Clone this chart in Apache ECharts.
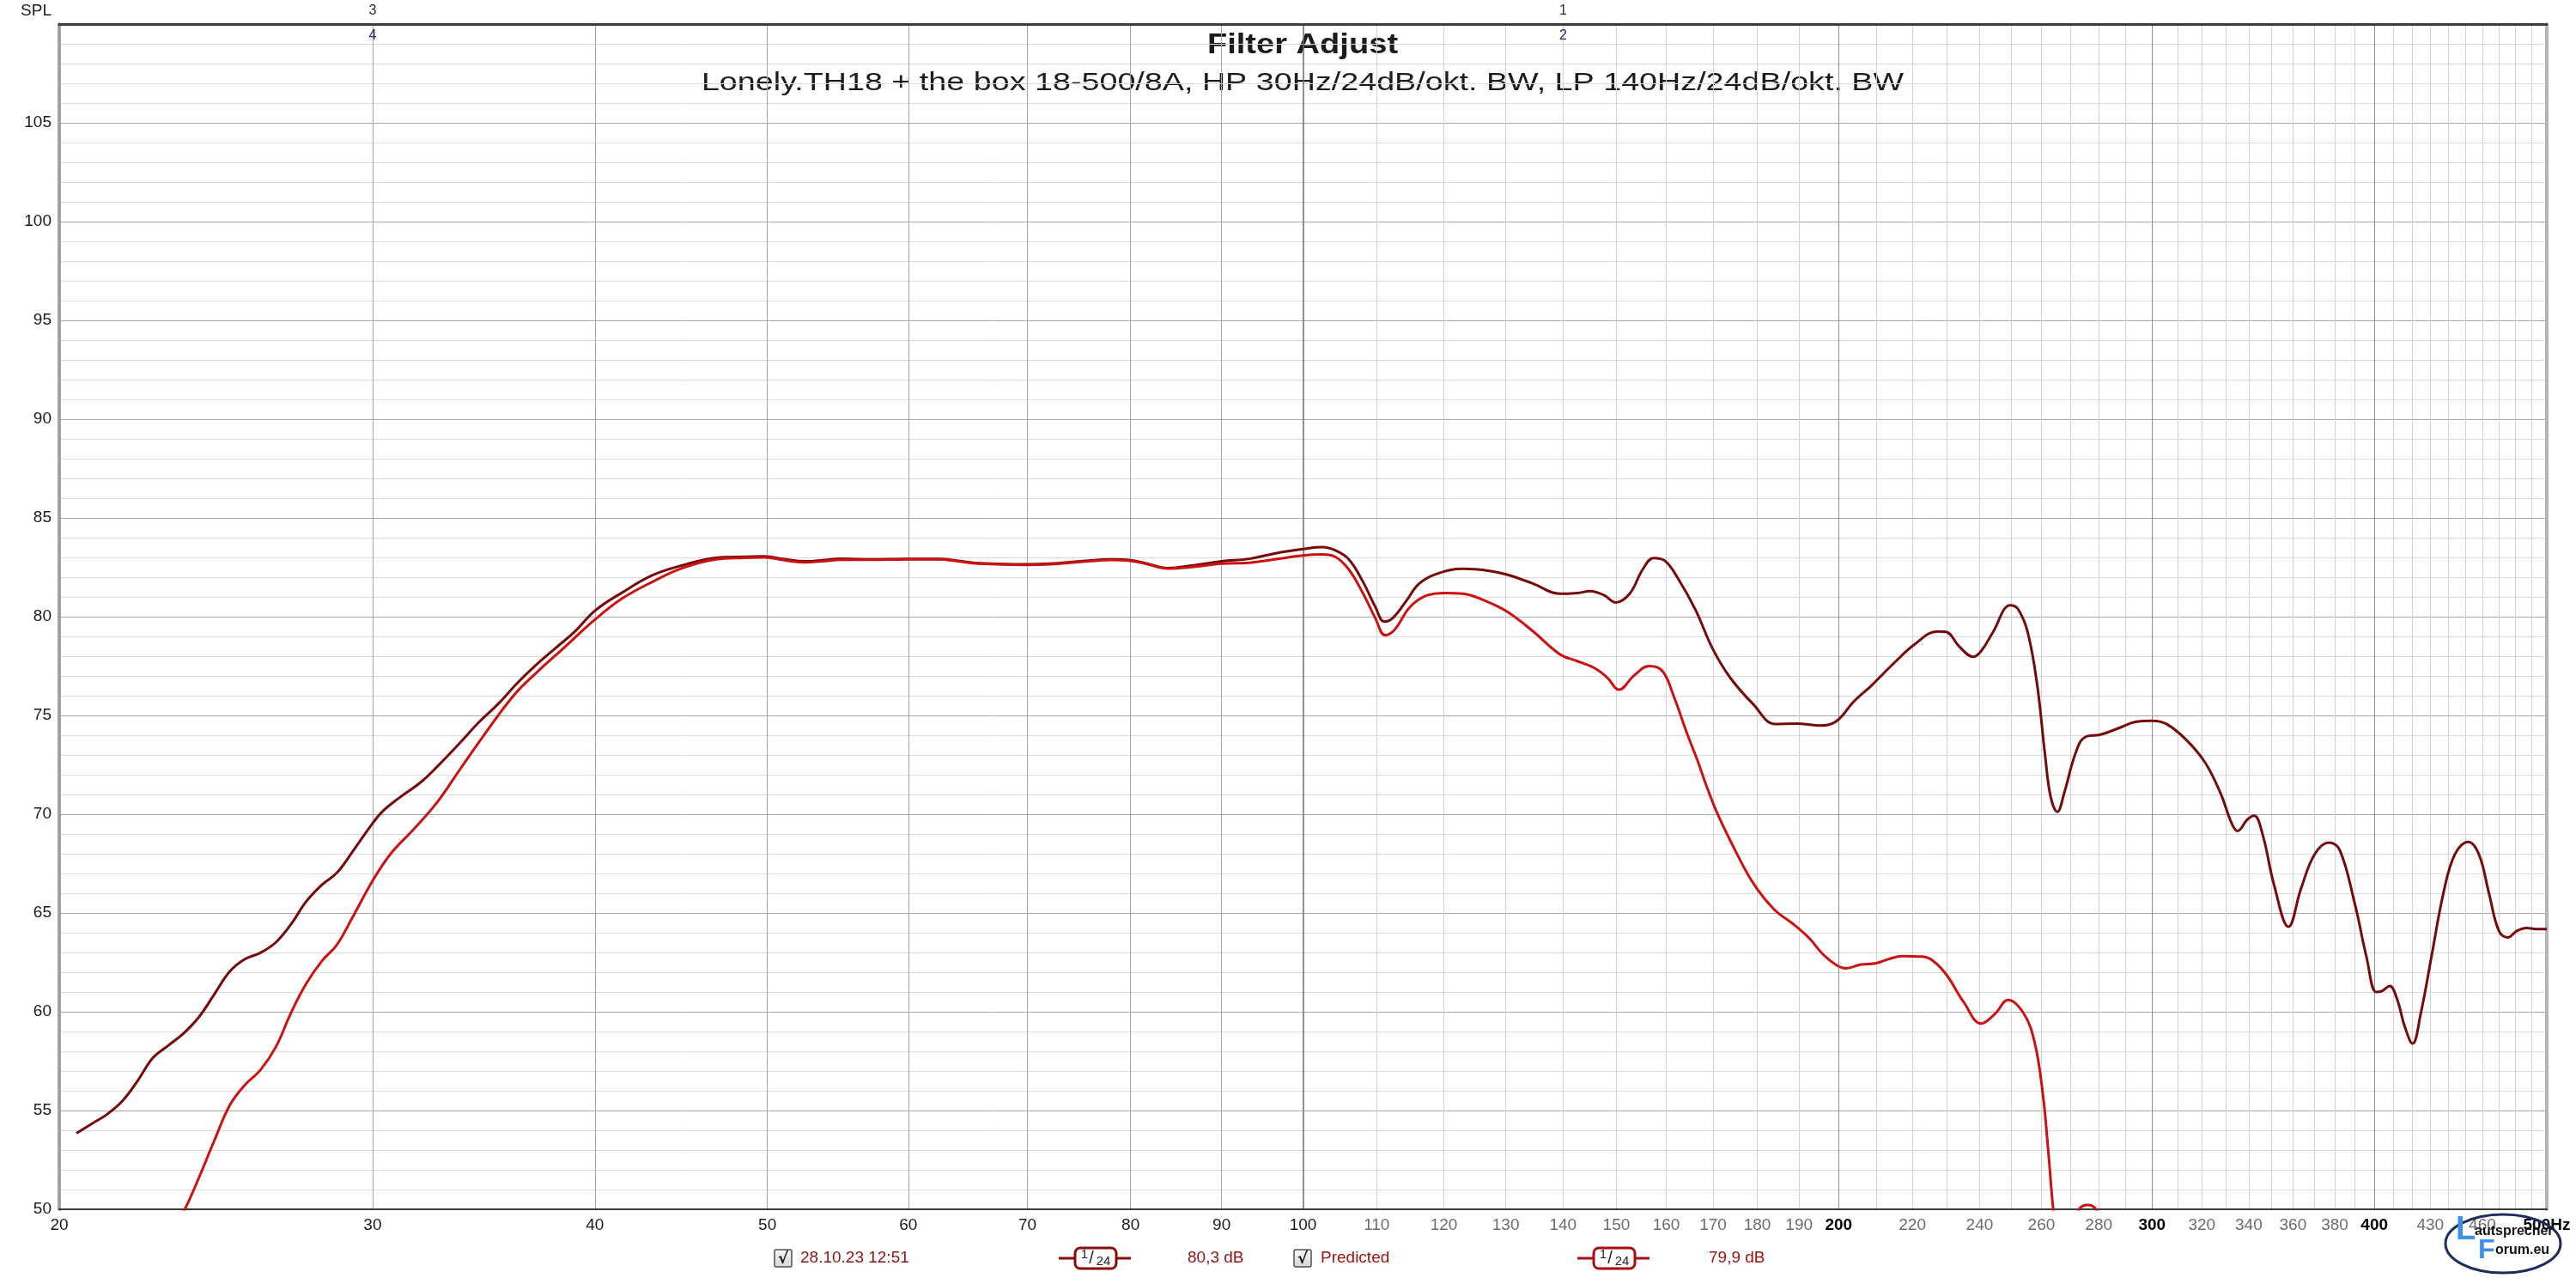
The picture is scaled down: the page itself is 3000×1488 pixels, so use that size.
<!DOCTYPE html>
<html><head><meta charset="utf-8">
<script src="https://cdn.jsdelivr.net/npm/echarts@6/dist/echarts.min.js"></script>
<style>html,body{margin:0;padding:0;background:#fff;}#c{width:3000px;height:1488px;}</style>
</head><body><div id="c"></div>
<script>
// ---------------- data ----------------
const titleText = 'Filter Adjust';
const subtitleText = 'Lonely.TH18 + the box 18-500/8A, HP 30Hz/24dB/okt. BW, LP 140Hz/24dB/okt. BW';

const measuredName = '28.10.23 12:51';
const measuredLevel = '80,3 dB';
const predictedName = 'Predicted';
const predictedLevel = '79,9 dB';
const smoothingLabel = ['1', '24'];

const measuredFreq = [20.45,20.86,21.27,21.7,22.14,22.58,23.03,23.5,23.97,24.45,24.94,25.44,25.94,26.46,27,27.53,28.09,28.65,29.22,30,30.41,31.01,31.94,32.74,33.58,34.42,35.29,36.17,37.07,38,38.96,40,41.4,43.1,44.8,46.8,48.5,49.8,51.2,52.5,53.9,55,57.2,60,62.4,64,65.7,70,72.1,75,78.1,80,81.8,83.9,86.8,90,93.3,96.4,100,102.5,104.3,106.1,108,109.8,111.1,112.3,114.3,116.2,118.9,123,127.3,130.2,134.7,139.4,142.6,145,147.6,149.9,152.6,155.2,157.4,159.7,162.4,166.2,170,173.9,179,184.2,189.5,194.9,199.4,204,208.7,214.6,220.8,227.2,229.8,233.8,238.1,240.5,244.2,249.7,252.2,255.4,258.6,261.2,263.1,265.4,267.8,271.8,275.1,280.7,287.8,293.6,300,305.6,313.3,321.2,327.7,332.6,335.1,339.4,342.4,346.2,351.3,357.9,363.8,370.3,377.2,382.5,390,396,401,404,408,412,416,420.3,424.6,431,437.5,444,451.6,457.9,463.8,469.9,475.3,481.2,487,493,500];
const measuredSPL = [53.85,54.33,54.8,55.48,56.52,57.67,58.29,58.92,59.75,60.9,62.04,62.67,62.98,63.5,64.44,65.58,66.42,67.04,68.08,69.54,70.17,70.79,71.63,72.56,73.6,74.65,75.58,76.63,77.56,78.4,79.23,80.3,81.2,82.1,82.6,82.98,83.03,83.05,82.9,82.8,82.87,82.93,82.9,82.92,82.92,82.83,82.71,82.65,82.68,82.8,82.9,82.86,82.68,82.46,82.6,82.8,82.93,83.2,83.42,83.52,83.35,82.9,81.81,80.5,79.75,79.93,80.8,81.67,82.17,82.42,82.32,82.13,81.67,81.16,81.2,81.29,81.09,80.72,81.16,82.39,82.97,82.83,81.96,80.33,78.33,76.88,75.58,74.57,74.59,74.49,74.71,75.72,76.52,77.61,78.62,79.25,79.23,78.48,77.97,78.26,79.22,80.58,80.39,79.22,76.51,73.02,70.89,70.12,71.09,73.12,73.9,74.03,74.38,74.67,74.73,74.57,73.8,72.64,71.09,69.53,69.15,69.73,69.92,68.95,66.43,64.3,66.24,67.98,68.57,68.18,65.47,62.75,61.0,61.05,61.3,60.62,59.26,58.39,59.84,62.95,66.05,67.98,68.6,67.98,66.05,64.1,63.76,64.1,64.24,64.19,64.19];

const predictedFreq = [23.3,23.53,23.97,24.45,24.94,25.44,25.94,26.46,27,27.53,28.09,28.65,29.22,30,30.7,31.63,32.6,33.58,34.6,36,37.07,38.4,40,41.4,43.1,44.8,46.8,48.5,49.8,51.2,52.5,53.9,55,57.2,60,62.4,64,65.7,70,72.1,75,78.1,80,81.8,83.9,86.8,90,93.3,96.4,100,102.5,104.3,106.1,108,109.8,111.2,112.6,114.9,117.5,120.2,123,126.6,130.2,134.7,139.4,142.6,145.8,148.3,150.5,153.5,156.5,159.2,161.5,164.3,166.8,168.1,170.8,174.5,179.2,184.1,188.2,192.4,196,199.5,201.9,205.6,209.9,213.4,217.1,222.9,225.8,229.9,235.1,240.5,244.9,249,254.1,257.7,260.5,262.5,264,266,268,270,273,276,279,282,288,295];
const predictedSPL = [49.4,50.0,51.63,53.5,55.27,56.31,57.04,58.19,59.96,61.42,62.56,63.4,64.75,66.63,67.98,69.23,70.58,72.25,73.92,76.0,77.15,78.4,79.85,80.9,81.77,82.46,82.9,82.98,83.0,82.85,82.75,82.82,82.88,82.88,82.9,82.9,82.8,82.68,82.62,82.65,82.77,82.87,82.83,82.65,82.43,82.52,82.68,82.73,82.9,83.1,83.15,83.02,82.39,81.23,79.93,79.06,79.35,80.51,81.09,81.2,81.16,80.8,80.26,79.25,78.1,77.75,77.4,76.9,76.3,77.03,77.5,77.25,76.01,74.13,72.6,71.72,70.11,68.36,66.46,65.15,64.5,63.75,62.9,62.35,62.2,62.38,62.46,62.67,62.82,62.79,62.6,61.88,60.49,59.4,59.91,60.6,59.91,58.46,55.8,52.6,50.0,47.8,47.0,48.6,50.0,50.22,50.0,48.8,46,43];

const xLabelValues = [20,30,40,50,60,70,80,90,100,110,120,130,140,150,160,170,180,190,200,220,240,260,280,300,320,340,360,380,400,430,460,500];
const xBoldLabels = [200,300,400,500];
const xGridMid = [30,40,50,60,70,80,90];
const xGridDecade = [100];
const xGridHundreds = [200,300,400];
const xGridFine = [110,120,130,140,150,160,170,180,190,210,220,230,240,250,260,270,280,290,310,320,330,340,350,360,370,380,390,410,420,430,440,450,460,470,480,490];
const yMin = 50, yMax = 110, yStep = 5;
const markerFreq = [30, 140];
const markerTop = ['3', '1'];
const markerInner = ['4', '2'];

// ---------------- chart ----------------
const FONT = '"Liberation Sans", Arial, Helvetica, sans-serif';
const chart = echarts.init(document.getElementById('c'), null, {renderer: 'canvas', width: 3000, height: 1488});

function zip(a, b) { return a.map((v, i) => [v, b[i]]); }

function gridAxis(values, color, width) {
  return {
    type: 'log', logBase: 10, min: 20, max: 500, position: 'bottom', gridIndex: 0,
    axisLine: {show: false}, axisLabel: {show: false},
    axisTick: {show: false, customValues: values},
    splitLine: {show: true, lineStyle: {color: color, width: width || 1}}
  };
}

const markerData = [];
markerFreq.forEach((f, i) => {
  markerData.push({coord: [f, yMax], label: {show: true, position: 'top', distance: 7, formatter: markerTop[i], color: '#2b2b35', fontSize: 16, fontFamily: FONT}});
  markerData.push({coord: [f, yMax], label: {show: true, position: 'bottom', distance: 5, formatter: markerInner[i], color: '#1f2a70', fontSize: 16, fontFamily: FONT}});
});

const legendColor = '#8e1414';
function checkbox(x, y) {
  return [
    {type: 'rect', shape: {x: x, y: y - 10, width: 20, height: 20, r: 2},
      style: {fill: new echarts.graphic.LinearGradient(0, 0, 0, 1, [{offset: 0, color: '#fafafa'}, {offset: 1, color: '#d4d4d4'}]), stroke: '#505050', lineWidth: 1.5}},
    {type: 'text', x: x + 10, y: y + 1, style: {text: '\u221A', font: 'bold 18px "DejaVu Sans", sans-serif', fill: '#111', align: 'center', verticalAlign: 'middle'}}
  ];
}
function smoothIcon(x, y, color) {
  return [
    {type: 'line', shape: {x1: x, y1: y, x2: x + 84, y2: y}, style: {stroke: color, lineWidth: 3}},
    {type: 'rect', shape: {x: x + 19, y: y - 12, width: 48, height: 24, r: 6}, style: {fill: '#fff', stroke: color, lineWidth: 3}},
    {type: 'text', x: x + 30, y: y - 4, style: {text: smoothingLabel[0], font: '15px ' + FONT, fill: '#222', align: 'center', verticalAlign: 'middle'}},
    {type: 'text', x: x + 38, y: y, style: {text: '/', font: '20px ' + FONT, fill: '#222', align: 'center', verticalAlign: 'middle'}},
    {type: 'text', x: x + 52, y: y + 4, style: {text: smoothingLabel[1], font: '15px ' + FONT, fill: '#222', align: 'center', verticalAlign: 'middle'}}
  ];
}
function legendText(x, y, t, color) {
  return {type: 'text', x: x, y: y, style: {text: t, font: '19px ' + FONT, fill: color, align: 'left', verticalAlign: 'middle'}};
}
const LY = 1465;
const graphics = [
  {type: 'text', x: 1517, y: 53, scaleX: 1.12, style: {text: titleText, font: 'bold 34px ' + FONT, fill: '#1c1c1c', align: 'center', verticalAlign: 'middle'}},
  {type: 'text', x: 1517, y: 97, scaleX: 1.3, style: {text: subtitleText, font: '29px ' + FONT, fill: '#1c1c1c', align: 'center', verticalAlign: 'middle'}},
  ...checkbox(902, LY),
  legendText(932, LY, measuredName, legendColor),
  ...smoothIcon(1233, LY, '#8b0a0a'),
  legendText(1383, LY, measuredLevel, legendColor),
  ...checkbox(1507, LY),
  legendText(1538, LY, predictedName, '#a01212'),
  ...smoothIcon(1837, LY, '#a80c0c'),
  legendText(1990, LY, predictedLevel, '#a01212'),
  // logo
  {type: 'ellipse', shape: {cx: 2915, cy: 1448, rx: 67, ry: 34}, style: {fill: 'none', stroke: '#1d2c5c', lineWidth: 3}, z: 100},
  {type: 'text', x: 2860, y: 1414, z: 101, style: {text: 'L', font: 'bold 38px ' + FONT, fill: '#3f8fe4', align: 'left', verticalAlign: 'top'}},
  {type: 'text', x: 2882, y: 1426, z: 101, style: {text: 'autsprecher', font: 'bold 16px ' + FONT, fill: '#111', align: 'left', verticalAlign: 'top'}},
  {type: 'text', x: 2886, y: 1440, z: 101, style: {text: 'F', font: 'bold 32px ' + FONT, fill: '#3f8fe4', align: 'left', verticalAlign: 'top'}},
  {type: 'text', x: 2906, y: 1448, z: 101, style: {text: 'orum.eu', font: 'bold 16px ' + FONT, fill: '#111', align: 'left', verticalAlign: 'top'}}
];

const option = {
  animation: false,
  backgroundColor: '#ffffff',
  grid: {left: 69, right: 34, top: 28, bottom: 80, containLabel: false},
  xAxis: [
    {
      type: 'log', logBase: 10, min: 20, max: 500, position: 'bottom', gridIndex: 0,
      axisLine: {show: true, lineStyle: {color: '#3a3a3a', width: 2}},
      axisTick: {show: false, customValues: xGridMid},
      splitLine: {show: true, lineStyle: {color: '#a6a6a6', width: 1}},
      axisLabel: {
        show: true, customValues: xLabelValues, margin: 9, showMinLabel: true, showMaxLabel: true, hideOverlap: false,
        formatter: function (v) {
          const r = Math.round(v);
          if (r === 500) return '{b|500Hz}';
          if (xBoldLabels.indexOf(r) >= 0) return '{b|' + r + '}';
          if (r <= 100) return '{n|' + r + '}';
          return '{g|' + r + '}';
        },
        rich: {
          n: {fontSize: 19, color: '#1a1a1a', fontFamily: FONT},
          g: {fontSize: 19, color: '#6c6c6c', fontFamily: FONT},
          b: {fontSize: 19, color: '#000', fontWeight: 'bold', fontFamily: FONT}
        }
      }
    },
    gridAxis(xGridFine, '#d2d2d2', 1),
    gridAxis(xGridHundreds, '#8e8e8e', 1),
    gridAxis(xGridDecade, '#6a6a6a', 1.5),
    {
      type: 'log', logBase: 10, min: 20, max: 500, position: 'top', gridIndex: 0,
      axisLine: {show: true, lineStyle: {color: '#3c3c3c', width: 3}},
      axisTick: {show: false}, axisLabel: {show: false}, splitLine: {show: false}
    }
  ],
  yAxis: [
    {
      type: 'value', min: yMin, max: yMax, interval: yStep, position: 'left',
      name: 'SPL', nameLocation: 'end', nameGap: 15,
      nameTextStyle: {align: 'right', verticalAlign: 'middle', fontSize: 19, color: '#1a1a1a', fontFamily: FONT, padding: [0, 9, 0, 0]},
      axisLine: {show: true, lineStyle: {color: '#a2a2a2', width: 4}},
      axisTick: {show: false},
      axisLabel: {margin: 9, fontSize: 19, color: '#1a1a1a', fontFamily: FONT, formatter: v => (v >= yMax ? '' : String(v))},
      splitLine: {show: true, lineStyle: {color: '#a9a9a9', width: 1}},
      minorTick: {show: false, splitNumber: 5},
      minorSplitLine: {show: true, lineStyle: {color: '#dcdcdc', width: 1}}
    },
    {
      type: 'value', min: yMin, max: yMax, position: 'right',
      axisLine: {show: true, lineStyle: {color: '#b4b4b4', width: 4}},
      axisTick: {show: false}, axisLabel: {show: false}, splitLine: {show: false}
    }
  ],
  series: [
    {
      name: measuredName, type: 'line', xAxisIndex: 0, yAxisIndex: 0,
      data: zip(measuredFreq, measuredSPL), showSymbol: false, symbol: 'none', smooth: 0.4, clip: true,
      lineStyle: {color: '#760a0a', width: 3}, z: 3,
      markPoint: {symbol: 'rect', symbolSize: 1, itemStyle: {color: 'rgba(0,0,0,0)'}, silent: true, data: markerData}
    },
    {
      name: predictedName, type: 'line', xAxisIndex: 0, yAxisIndex: 0,
      data: zip(predictedFreq, predictedSPL), showSymbol: false, symbol: 'none', smooth: 0.4, clip: true,
      lineStyle: {color: '#cc1111', width: 3}, z: 4
    }
  ],
  graphic: graphics
};
chart.setOption(option);
</script>
</body></html>
